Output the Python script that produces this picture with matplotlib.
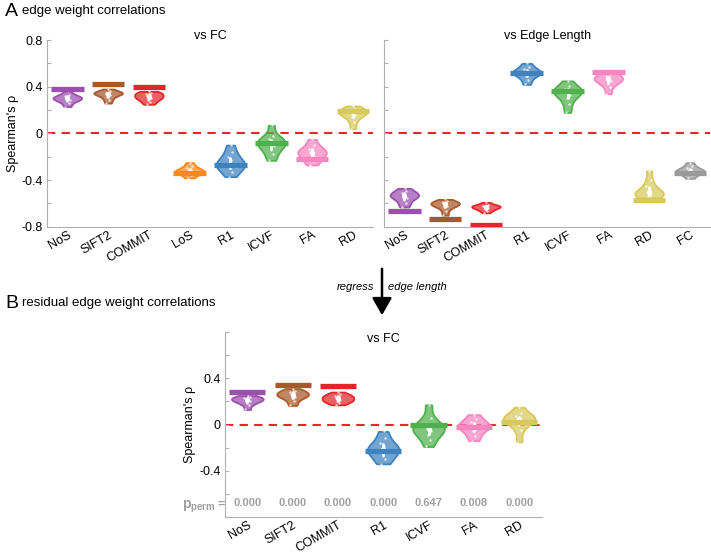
import matplotlib
matplotlib.use("Agg")
import matplotlib.pyplot as plt
import matplotlib.transforms as mtransforms
from matplotlib.colors import to_rgba
import numpy as np

plt.rcParams['font.family'] = ['Liberation Sans', 'DejaVu Sans']
plt.rcParams['mathtext.fontset'] = 'custom'
plt.rcParams['mathtext.rm'] = 'Liberation Sans'
plt.rcParams['mathtext.bf'] = 'Liberation Sans:bold'

# ---- colours per measure
colores = {
    "NoS": "#9b4fae", "SIFT2": "#a8592c", "COMMIT": "#e4262a", "LoS": "#fb8a1c",
    "R1": "#3f82c0", "ICVF": "#50b04d", "FA": "#f586c0", "RD": "#d8c95c", "FC": "#9a9a9a",
}

# ---- A: vs FC
cats_fc = ["NoS", "SIFT2", "COMMIT", "LoS", "R1", "ICVF", "FA", "RD"]
dist_fc = [
    [0.23, 0.26, 0.28, 0.29, 0.30, 0.30, 0.31, 0.32, 0.33, 0.36],
    [0.26, 0.29, 0.31, 0.33, 0.34, 0.34, 0.35, 0.35, 0.36, 0.38],
    [0.25, 0.27, 0.29, 0.30, 0.31, 0.32, 0.33, 0.34, 0.35, 0.36],
    [-0.38, -0.36, -0.34, -0.33, -0.33, -0.32, -0.31, -0.30, -0.28, -0.25],
    [-0.37, -0.33, -0.30, -0.28, -0.27, -0.25, -0.23, -0.20, -0.16, -0.10],
    [-0.23, -0.18, -0.14, -0.11, -0.09, -0.08, -0.07, -0.05, -0.02, 0.07],
    [-0.27, -0.24, -0.21, -0.19, -0.17, -0.16, -0.15, -0.13, -0.10, -0.05],
    [0.04, 0.10, 0.14, 0.16, 0.17, 0.18, 0.19, 0.20, 0.21, 0.235],
]
group_fc = [0.38, 0.42, 0.40, -0.335, -0.27, -0.085, -0.215, 0.19]

# ---- A: vs Edge Length
cats_len = ["NoS", "SIFT2", "COMMIT", "R1", "ICVF", "FA", "RD", "FC"]
dist_len = [
    [-0.63, -0.60, -0.57, -0.55, -0.54, -0.53, -0.52, -0.51, -0.49, -0.47],
    [-0.70, -0.66, -0.63, -0.62, -0.61, -0.60, -0.60, -0.59, -0.58, -0.565],
    [-0.68, -0.66, -0.65, -0.64, -0.63, -0.63, -0.62, -0.62, -0.61, -0.59],
    [0.42, 0.46, 0.49, 0.51, 0.52, 0.52, 0.53, 0.55, 0.57, 0.60],
    [0.18, 0.25, 0.30, 0.33, 0.35, 0.36, 0.37, 0.38, 0.41, 0.45],
    [0.34, 0.40, 0.43, 0.45, 0.46, 0.47, 0.48, 0.49, 0.51, 0.54],
    [-0.55, -0.54, -0.53, -0.52, -0.51, -0.50, -0.48, -0.45, -0.40, -0.32],
    [-0.385, -0.36, -0.34, -0.33, -0.33, -0.32, -0.31, -0.30, -0.28, -0.25],
]
group_len = [-0.66, -0.73, -0.78, 0.52, 0.36, 0.53, -0.57, -0.34]

# ---- B: residual vs FC
cats_res = ["NoS", "SIFT2", "COMMIT", "R1", "ICVF", "FA", "RD"]
dist_res = [
    [0.13, 0.17, 0.19, 0.20, 0.21, 0.22, 0.22, 0.23, 0.24, 0.25],
    [0.165, 0.20, 0.23, 0.24, 0.25, 0.26, 0.27, 0.28, 0.29, 0.31],
    [0.17, 0.19, 0.20, 0.21, 0.22, 0.23, 0.24, 0.25, 0.26, 0.28],
    [-0.34, -0.30, -0.27, -0.24, -0.22, -0.21, -0.19, -0.16, -0.12, -0.06],
    [-0.19, -0.13, -0.09, -0.06, -0.04, -0.03, -0.02, 0.01, 0.06, 0.17],
    [-0.14, -0.10, -0.06, -0.04, -0.02, -0.01, 0.0, 0.02, 0.05, 0.085],
    [-0.15, -0.05, 0.0, 0.03, 0.04, 0.05, 0.06, 0.07, 0.10, 0.15],
]
group_res = [0.28, 0.34, 0.33, -0.23, 0.0, -0.02, 0.02]
p_perm = ["0.000", "0.000", "0.000", "0.000", "0.647", "0.008", "0.000"]

GRIS = "#b0b0b0"


def draw_panel(ax, cats, dists, group, title, ylabels=True, ytick_labs=None):
    pos = np.arange(1, len(cats) + 1)
    ax.axhline(0, color="#e8262a", lw=1.5, ls=(0, (4, 3)), zorder=1)
    vp = ax.violinplot(dists, positions=pos, widths=0.7, showextrema=False, bw_method=0.5)
    for body, c in zip(vp["bodies"], cats):
        body.set_alpha(None)
        body.set_facecolor(to_rgba(colores[c], 0.72))
        body.set_edgecolor(colores[c])
        body.set_linewidth(1.3)
        body.set_zorder(2)
    offs = [-0.06, 0.04, -0.02, 0.07, 0.0, -0.05, 0.03, -0.08, 0.06, 0.01]
    for p, d in zip(pos, dists):
        ax.scatter(p + np.array(offs[:len(d)]) * 0.8, d, s=3, color="white", alpha=0.75, zorder=3, lw=0)
        q1, med, q3 = np.percentile(d, [25, 50, 75])
        ax.plot([p, p], [q1, q3], color="white", lw=2, zorder=4, solid_capstyle="round")
        ax.scatter([p], [med], s=14, color="white", zorder=5, lw=0)
    for p, g, c in zip(pos, group, cats):
        ax.hlines(g, p - 0.4, p + 0.4, color=colores[c], lw=3.8, zorder=6)

    ax.set_xlim(0.5, len(cats) + 0.5)
    ax.set_ylim(-0.8, 0.8)
    ax.set_yticks(np.round(np.arange(-0.8, 0.81, 0.2), 1))
    if ylabels:
        ax.set_yticklabels(ytick_labs)
        ax.set_ylabel("Spearman's ρ", fontsize=9, labelpad=2)
    else:
        ax.set_yticklabels([])
    ax.set_xticks(pos)
    offset = mtransforms.ScaledTranslation(0.08, 0, ax.figure.dpi_scale_trans)
    ax.set_xticklabels(cats, rotation=30, ha="right", rotation_mode="anchor", fontsize=9)
    for lab in ax.get_xticklabels():
        lab.set_transform(lab.get_transform() + offset)
    for s in ["top", "right"]:
        ax.spines[s].set_visible(False)
    for s in ["left", "bottom"]:
        ax.spines[s].set_color(GRIS)
        ax.spines[s].set_linewidth(0.8)
    ax.tick_params(direction="in", length=3, color=GRIS, labelsize=9, pad=3)
    ax.tick_params(axis="x", length=0, pad=1.5)
    ax.text(0.5, 1.02, title, transform=ax.transAxes, ha="center", va="center", fontsize=9)


fig = plt.figure(figsize=(7.11, 5.56), dpi=100)

labs_a = ["-0.8", "", "-0.4", "", "0", "", "0.4", "", "0.8"]
labs_b = ["", "", "-0.4", "", "0", "", "0.4", "", ""]

ax1 = fig.add_axes([0.066, 0.592, 0.459, 0.336])
draw_panel(ax1, cats_fc, dist_fc, group_fc, "vs FC", True, labs_a)

ax2 = fig.add_axes([0.540, 0.592, 0.459, 0.336])
draw_panel(ax2, cats_len, dist_len, group_len, "vs Edge Length", False)

ax3 = fig.add_axes([0.316, 0.070, 0.446, 0.333])
draw_panel(ax3, cats_res, dist_res, group_res, "", True, labs_b)
ax3.text(0.5, 0.96, "vs FC", transform=ax3.transAxes, ha="center", va="center", fontsize=9)

# p_perm row
for p, v in zip(range(1, len(cats_res) + 1), p_perm):
    ax3.text(p, -0.68, v, ha="center", va="center", fontsize=8, color="#a0a0a0", fontweight="bold")
fig.text(182 / 711, 1 - 507 / 556, r"$\mathbf{p_{perm}}$", ha="left", va="center",
         fontsize=10, color="#a0a0a0")
fig.text(217 / 711, 1 - 505 / 556, "=", ha="left", va="center",
         fontsize=9, color="#a0a0a0", fontweight="bold")

# panel labels
fig.text(5 / 711, 1 - 11 / 556, "A", fontsize=14, va="center", ha="left")
fig.text(22 / 711, 1 - 11 / 556, "edge weight correlations", fontsize=9.5, va="center", ha="left")
fig.text(5 / 711, 1 - 303 / 556, "B", fontsize=14, va="center", ha="left")
fig.text(22 / 711, 1 - 303 / 556, "residual edge weight correlations", fontsize=9.5, va="center", ha="left")

# arrow between panels
fig.patches.append(matplotlib.patches.FancyArrowPatch(
    (382 / 711, 1 - 266 / 556), (382 / 711, 1 - 318 / 556), transform=fig.transFigure,
    arrowstyle="-|>,head_length=7,head_width=4", color="black", lw=1.8, mutation_scale=1.5))
fig.text(374 / 711, 1 - 287 / 556, "regress", fontsize=8, style="italic", ha="right", va="center")
fig.text(388 / 711, 1 - 287 / 556, "edge length", fontsize=8, style="italic", ha="left", va="center")

fig.savefig("out.png", dpi=100)
